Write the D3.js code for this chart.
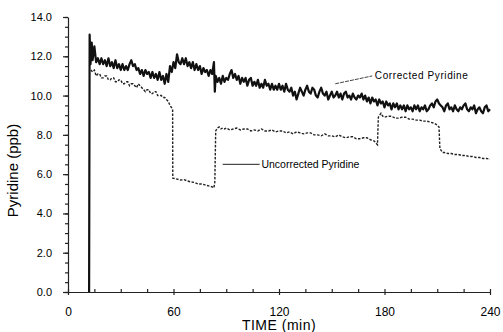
<!DOCTYPE html>
<html lang="en">
<head>
    <meta charset="UTF-8">
    <title>Pyridine vs Time</title>
    <script src="https://d3js.org/d3.v7.min.js"></script>
    <style>
        body { margin: 0; background: #fff; }
        svg text { font-family: "Liberation Sans", Arial, sans-serif; fill: #000; }
        .corrected { fill: none; stroke: #111; stroke-width: 2.2px; stroke-linejoin: round; }
        .uncorrected { fill: none; stroke: #222; stroke-width: 1.4px; stroke-dasharray: 2.5,1.5; }
        .axis path, .axis line { stroke: #222; stroke-width: 1.2px; }
    </style>
</head>
<body>
<svg id="chart" width="503" height="332"></svg>
<script>
    // Data: [time (min), pyridine (ppb)]
    var corrected = [
        [12,0],[12.3,13.1],[12.8,11.6],[13.5,12.7],[14,11.8],[15,12.5],[16,11.7],[17,11.9],[18,11.6],[19,11.9],[20,11.6],
        [21,11.8],[22,11.5],[23,11.9],[24,11.5],[25,11.7],[26,11.4],[27,11.8],[28,11.4],[29,11.6],[30,11.3],[31,11.6],
        [32,11.3],[33,11.5],[34,11.3],[35,11.6],[36,11.8],[37,11.5],[38,11.6],[39,11.3],
        [40,11.4],[41,11.1],[42,11.3],[43,11.0],[44,11.3],[45,11.1],[46,11.2],[47,10.9],[48,11.2],[49,10.9],[50,11.1],
        [51,10.8],[52,11.2],[53,10.8],[54,11.0],[55,10.6],
        [56,11.1],[57,10.7],[58,11.5],[59,11.2],[60,11.7],[61,11.4],[62,12.1],[63,11.7],[64,11.6],[65,11.9],[66,11.6],
        [67,11.9],[68,11.5],[69,11.7],[70,11.4],[71,11.7],
        [72,11.3],[73,11.6],[74,11.3],[75,11.5],[76,11.1],[77,11.4],[78,11.2],[79,11.3],[80,11.0],[81,11.3],[82,11.1],
        [83,11.7],[83.5,10.2],[84,11.0],[85,10.7],
        [86,10.9],[87,10.6],[88,11.0],[89,10.7],[90,10.9],[91,10.8],[92,11.1],[93,11.3],[94,10.9],[95,11.1],[96,10.8],
        [97,11.0],[98,10.6],[99,10.9],[100,10.7],
        [101,10.9],[102,10.5],[103,10.8],[104,10.9],[105,10.5],[106,10.7],[107,10.5],[108,10.8],[109,10.4],[110,10.6],
        [111,10.4],[112,10.8],[113,10.5],[114,10.6],[115,10.3],[116,10.6],[117,10.3],
        [118,10.5],[119,10.3],[120,10.6],[121,10.3],[122,10.5],[123,10.2],[124,10.6],[125,10.3],[126,10.2],[127,10.4],
        [128,10.0],[129,10.2],[130,9.8],[131,10.1],[132,10.4],[133,10.2],
        [134,10.0],[135,10.3],[136,10.5],[137,10.2],[138,10.1],[139,10.4],[140,10.3],[141,10.0],[142,9.9],[143,10.2],
        [144,10.4],[145,10.1],[146,10.0],[147,10.2],[148,9.8],[149,10.0],
        [150,10.2],[151,9.9],[152,10.0],[153,10.2],[154,9.9],[155,10.1],[156,9.8],[157,10.1],[158,10.2],[159,9.9],
        [160,10.0],[161,9.8],[162,10.1],[163,9.9],[164,9.8],[165,10.0],
        [166,9.9],[167,10.1],[168,9.8],[169,10.0],[170,9.7],[171,9.9],[172,9.6],[173,9.9],[174,9.7],[175,9.8],[176,9.5],
        [177,9.8],[178,9.6],[179,9.7],[180,9.4],[181,9.7],[182,9.5],
        [183,9.6],[184,9.3],[185,9.6],[186,9.4],[187,9.6],[188,9.3],[189,9.5],[190,9.3],[191,9.5],[192,9.2],[193,9.5],
        [194,9.3],[195,9.4],[196,9.2],[197,9.5],[198,9.3],[199,9.5],[200,9.2],
        [201,9.4],[202,9.3],[203,9.5],[204,9.2],[205,9.3],[206,9.5],[207,9.6],[208,9.4],[209,9.7],[210,9.8],[211,9.6],
        [212,9.5],[213,9.4],[214,9.2],[215,9.5],[216,9.6],[217,9.3],[218,9.4],
        [219,9.2],[220,9.5],[221,9.3],[222,9.2],[223,9.4],[224,9.3],[225,9.5],[226,9.6],[227,9.3],[228,9.2],[229,9.4],
        [230,9.3],[231,9.5],[232,9.1],[233,9.3],[234,9.4],[235,9.2],[236,9.1],[237,9.4],[238,9.5],[239,9.2],[240,9.3]
    ];

    var uncorrected = [
        [13,11.3],[14,11.2],[15,11.3],[16,11.0],[17,11.1],[18,11.1],[19,10.9],[20,10.9],[21,11.0],[22,11.0],
        [23,10.8],[24,10.8],[25,10.9],[26,10.9],[27,10.7],[28,10.7],[29,10.8],[30,10.8],[31,10.6],[32,10.6],
        [33,10.7],[34,10.7],[35,10.5],[36,10.6],[37,10.6],[38,10.5],[39,10.4],[40,10.6],[41,10.5],[42,10.4],
        [43,10.3],[44,10.2],[45,10.3],[46,10.3],[47,10.1],[48,10.1],[49,10.2],[50,10.2],[51,10.0],[52,10.0],
        [53,10.0],[54,9.9],[55,9.9],[56,9.8],[57,9.7],[58,9.5],[59.5,9.3],[59.6,5.8],[62,5.75],
        [64,5.7],[66,5.72],[68,5.65],[70,5.6],[72,5.58],[74,5.5],[76,5.5],[78,5.45],[80,5.4],[82,5.35],[83,5.3],
        [83.5,5.6],[84,8.2],[85,8.35],[86,8.4],
        [87,8.3],[88,8.35],[89,8.3],[90,8.35],[92,8.25],[94,8.3],[96,8.35],[98,8.25],[100,8.3],[102,8.3],[104,8.2],
        [106,8.25],[108,8.2],[110,8.3],[112,8.2],[114,8.2],[116,8.25],[118,8.15],[120,8.2],
        [122,8.2],[124,8.1],[126,8.15],[128,8.05],[130,8.15],[132,8.1],[134,8.05],[136,8.1],[138,8.1],[140,8.0],[142,8.0],
        [144,7.95],[146,8.05],[148,7.95],[150,7.95],[152,7.9],
        [154,8.0],[156,7.9],[158,7.85],[160,7.9],[162,7.9],[164,7.8],[166,7.8],[168,7.85],[170,7.85],[172,7.75],[174,7.7],
        [175,7.6],[176,7.5],[176.5,8.9],
        [178,9.1],[179,8.95],[180,8.9],[182,8.95],[184,8.95],[186,8.85],[188,8.85],[190,8.9],[192,8.9],[194,8.8],
        [196,8.8],[198,8.75],[200,8.75],[202,8.7],
        [204,8.7],[206,8.65],[208,8.6],[210,8.5],[211,8.4],[211.5,7.3],[213,7.1],[214,7.1],[216,7.05],[218,7.05],
        [220,7.0],[222,7.0],[224,6.95],[226,6.95],[228,6.9],
        [230,6.9],[232,6.85],[234,6.85],[236,6.8],[238,6.8],[240,6.75]
    ];

    var xTicks = [0, 60, 120, 180, 240];
    var yTicks = [0, 2, 4, 6, 8, 10, 12, 14];

    var margin = {top: 17, right: 13, bottom: 40, left: 68},
        width = 503 - margin.left - margin.right,
        height = 332 - margin.top - margin.bottom;

    var x = d3.scaleLinear().domain([0, 240]).range([0, width]);
    var y = d3.scaleLinear().domain([0, 14]).range([height, 0]);

    var svg = d3.select("#chart")
        .append("g")
        .attr("transform", "translate(" + margin.left + "," + margin.top + ")");

    // Minor ticks
    svg.append("g")
        .attr("class", "axis")
        .call(d3.axisLeft(y).tickValues(d3.range(0, 14.01, 0.5)).tickSize(3).tickFormat(""))
        .select(".domain").remove();
    svg.append("g")
        .attr("class", "axis")
        .attr("transform", "translate(0," + height + ")")
        .call(d3.axisBottom(x).tickValues(d3.range(0, 241, 15)).tickSizeInner(-3).tickSizeOuter(0).tickFormat(""))
        .select(".domain").remove();

    // Y axis
    var yAxis = svg.append("g")
        .attr("class", "axis")
        .call(d3.axisLeft(y).tickValues(yTicks).tickSize(5).tickSizeOuter(0).tickPadding(11)
            .tickFormat(d3.format(".1f")));
    yAxis.selectAll("text").style("font-size", "11px");

    // X axis
    var xAxis = svg.append("g")
        .attr("class", "axis")
        .attr("transform", "translate(0," + height + ")")
        .call(d3.axisBottom(x).tickValues(xTicks).tickSizeInner(3).tickSizeOuter(0).tickPadding(12));
    xAxis.selectAll("text").style("font-size", "12px");

    // Lines
    var line = d3.line()
        .x(function(d) { return x(d[0]); })
        .y(function(d) { return y(d[1]); });

    svg.append("path")
        .datum(uncorrected)
        .attr("class", "uncorrected")
        .attr("d", line);

    svg.append("path")
        .datum(corrected)
        .attr("class", "corrected")
        .attr("d", line);

    // Axis titles
    svg.append("text")
        .attr("x", x(120))
        .attr("y", height + 38)
        .attr("text-anchor", "middle")
        .style("font-size", "14px")
        .style("letter-spacing", "0.5px")
        .text("TIME (min)");

    svg.append("text")
        .attr("transform", "translate(-50," + (height / 2 + 16) + ") rotate(-90)")
        .attr("text-anchor", "middle")
        .style("font-size", "15px")
        .text("Pyridine (ppb)");

    // Series labels with leader lines
    svg.append("line")
        .attr("x1", x(88)).attr("y1", y(6.5))
        .attr("x2", x(109)).attr("y2", y(6.5))
        .attr("stroke", "#222").attr("stroke-width", 1);
    svg.append("text")
        .attr("x", x(110))
        .attr("y", y(6.5) + 4)
        .style("font-size", "10.5px")
        .text("Uncorrected Pyridine");

    svg.append("line")
        .attr("x1", x(152)).attr("y1", y(10.6))
        .attr("x2", x(173)).attr("y2", y(11.0))
        .attr("stroke", "#444").attr("stroke-width", 1)
        .attr("stroke-dasharray", "4,1");
    svg.append("text")
        .attr("x", x(174.5))
        .attr("y", y(11.0) + 3)
        .style("font-size", "10px")
        .style("letter-spacing", "0.6px")
        .text("Corrected Pyridine");
</script>
</body>
</html>
